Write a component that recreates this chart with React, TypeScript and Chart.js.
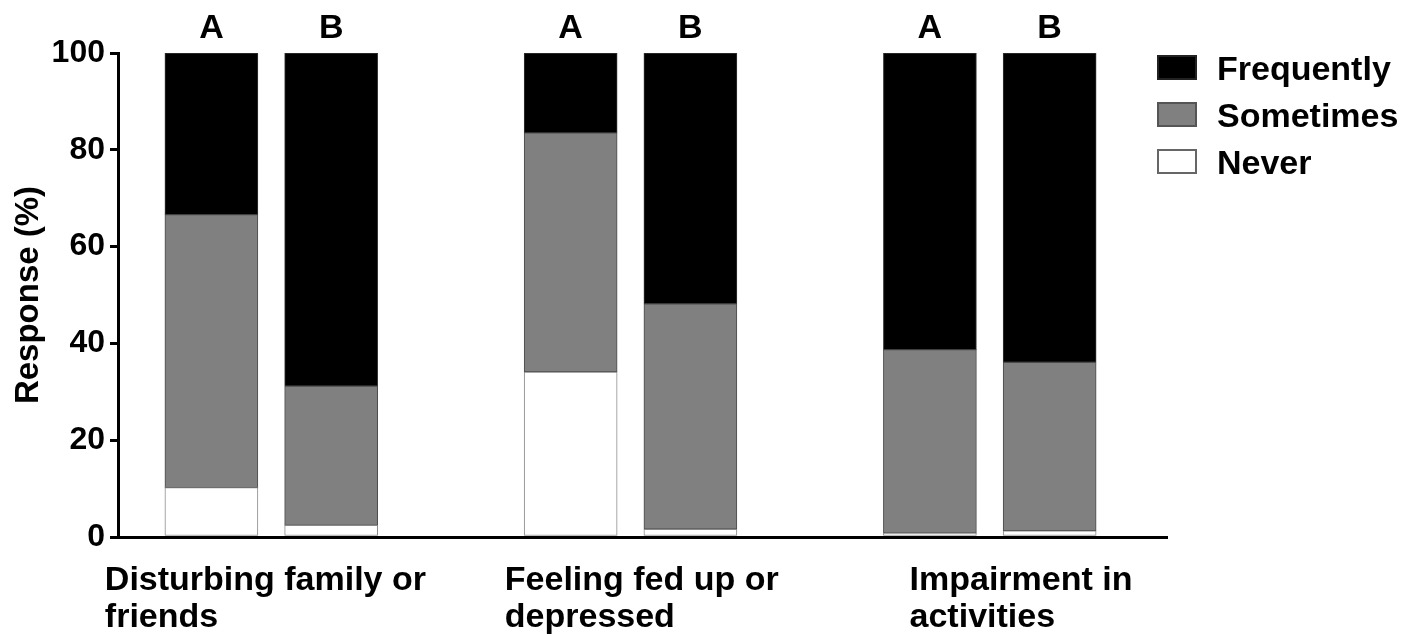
import React, { useEffect, useRef } from 'react';
import { Chart, registerables } from 'chart.js';

Chart.register(...registerables);

// ---- data ----
const categories = ['Disturbing family or friends', 'Feeling fed up or depressed', 'Impairment in activities'];
const categoryLines = [
  ['Disturbing family or', 'friends'],
  ['Feeling fed up or', 'depressed'],
  ['Impairment in', 'activities'],
];
const groups = ['A', 'B'];
// order: cat1 A, cat1 B, cat2 A, cat2 B, cat3 A, cat3 B
const never = [10.2, 2.4, 34.1, 1.6, 0.8, 1.3];
const sometimes = [56.4, 28.8, 49.4, 46.6, 37.9, 34.8];
const frequently = [33.4, 68.8, 16.5, 51.8, 61.3, 63.9];
const seriesNames = ['Never', 'Sometimes', 'Frequently'];
const yTicks = [0, 20, 40, 60, 80, 100];

const FONT = "'Liberation Sans', Arial, Helvetica, sans-serif";
const SLOTS_PER_CATEGORY = 3; // two bars + one empty slot
const LABEL_LEFT_OFFSET = [-0.89, -0.55, -0.17];

const xOf = (i: number) => Math.floor(i / groups.length) * SLOTS_PER_CATEGORY + (i % groups.length);
const toPoints = (arr: number[]) => arr.map((v, i) => ({ x: xOf(i), y: v }));

const annotationsPlugin = {
  id: 'annotations',
  afterDraw(chart: any) {
    const { ctx, chartArea, scales } = chart;
    const xs = scales.x;
    ctx.save();
    ctx.fillStyle = '#000';
    ctx.font = `bold 34px ${FONT}`;
    // A / B labels
    ctx.textAlign = 'center';
    ctx.textBaseline = 'alphabetic';
    categories.forEach((_, ci) => {
      groups.forEach((g, gi) => {
        const px = xs.getPixelForValue(ci * SLOTS_PER_CATEGORY + gi);
        ctx.fillText(g, px, chartArea.top - 15);
      });
    });
    // category labels (left-aligned blocks)
    ctx.textAlign = 'left';
    categoryLines.forEach((lines, ci) => {
      const left = xs.getPixelForValue(ci * SLOTS_PER_CATEGORY + LABEL_LEFT_OFFSET[ci]);
      lines.forEach((line, li) => {
        ctx.fillText(line, left, chartArea.bottom + 53 + li * 37);
      });
    });
    // legend
    const ds = chart.data.datasets.slice().reverse();
    const boxX = chartArea.right - 10;
    ds.forEach((d: any, i: number) => {
      const cy = chartArea.top + 14.5 + i * 47;
      ctx.fillStyle = d.backgroundColor;
      ctx.fillRect(boxX, cy - 12.5, 40, 25);
      ctx.lineWidth = 2;
      ctx.strokeStyle = d.legendBorder;
      ctx.strokeRect(boxX + 1, cy - 11.5, 38, 23);
      ctx.fillStyle = '#000';
      ctx.textBaseline = 'alphabetic';
      ctx.fillText(d.label, boxX + 60, cy + 12);
    });
    ctx.restore();
  },
};

export default function App() {
  const ref = useRef<HTMLCanvasElement>(null);
  useEffect(() => {
    if (!ref.current) return;
    const common = { barThickness: 93, borderWidth: 1, borderSkipped: false as const };
    const chart = new Chart(ref.current, {
      type: 'bar',
      data: {
        datasets: [
          { ...common, label: seriesNames[0], data: toPoints(never), backgroundColor: '#ffffff', borderColor: '#8a8a8a', legendBorder: '#666' } as any,
          { ...common, label: seriesNames[1], data: toPoints(sometimes), backgroundColor: '#808080', borderColor: '#4a4a4a', legendBorder: '#555' } as any,
          { ...common, label: seriesNames[2], data: toPoints(frequently), backgroundColor: '#000000', borderColor: '#333333', legendBorder: '#222' } as any,
        ],
      },
      options: {
        responsive: false,
        animation: false,
        layout: { padding: { top: 53, right: 237, left: 0, bottom: 0 } },
        plugins: { legend: { display: false }, tooltip: { enabled: false } },
        scales: {
          x: {
            type: 'linear',
            min: -0.78,
            max: 7.98,
            stacked: true,
            offset: false,
            ticks: { display: false },
            grid: { drawOnChartArea: false, drawTicks: false },
            border: { display: true, width: 3, color: '#000' },
            afterFit: (s: any) => { s.height = 99; },
          },
          y: {
            min: 0,
            max: 100,
            stacked: true,
            afterBuildTicks: (s: any) => { s.ticks = yTicks.map((v) => ({ value: v })); },
            ticks: { color: '#000', padding: 5, font: { family: FONT, size: 32, weight: 'bold' } },
            grid: { drawOnChartArea: false, drawTicks: true, tickLength: 8, tickWidth: 3, lineWidth: 3, color: '#000' },
            border: { display: true, width: 3, color: '#000' },
            title: {
              display: true,
              text: 'Response (%)',
              color: '#000',
              font: { family: FONT, size: 33, weight: 'bold' },
              padding: { top: 9, bottom: 0 },
            },
            afterFit: (s: any) => { s.width = 118; },
          },
        },
      } as any,
      plugins: [annotationsPlugin],
    });
    return () => chart.destroy();
  }, []);
  return (
    <div style={{ position: 'absolute', left: 0, top: 0, width: 1404, height: 636, background: '#fff' }}>
      <canvas ref={ref} width={1404} height={636} style={{ display: 'block' }} />
    </div>
  );
}
